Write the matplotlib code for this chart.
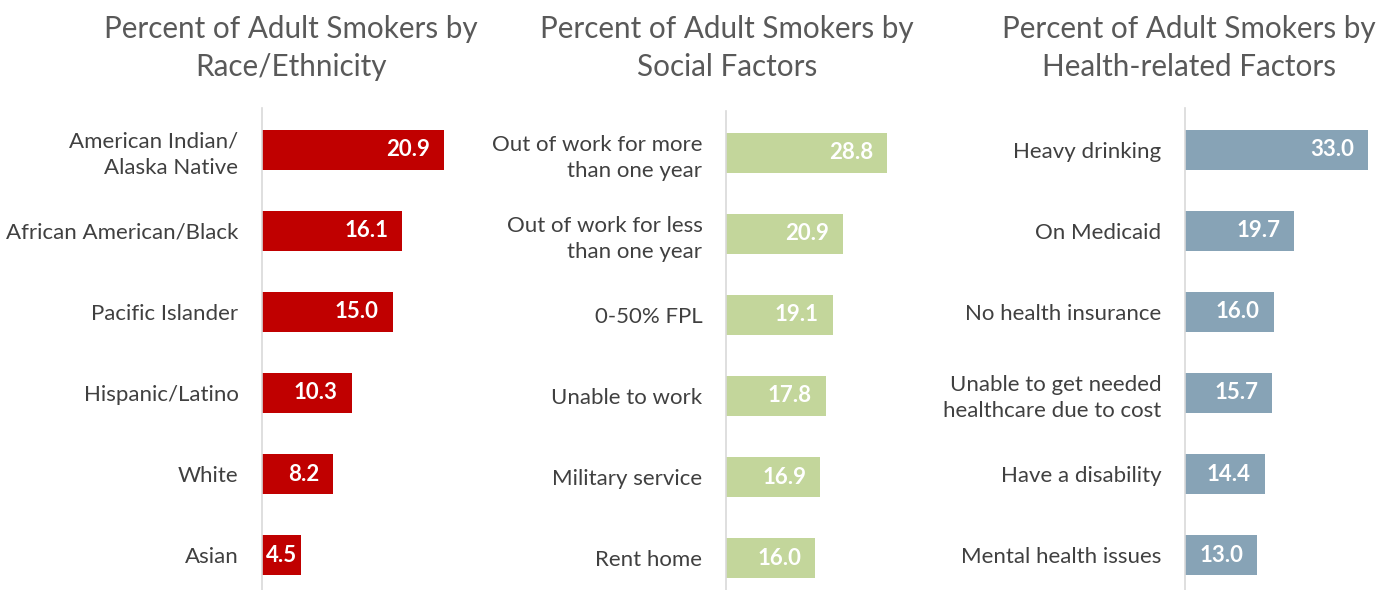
import matplotlib.pyplot as plt

plt.rcParams['font.family'] = ['Lato', 'DejaVu Sans']

# Race / ethnicity
race_labels = ["American Indian/\nAlaska Native", "African American/Black", "Pacific Islander",
               "Hispanic/Latino", "White", "Asian"]
race_values = [20.9, 16.1, 15.0, 10.3, 8.2, 4.5]

# Social factors
social_labels = ["Out of work for more\nthan one year", "Out of work for less\nthan one year", "0-50% FPL",
                 "Unable to work", "Military service", "Rent home"]
social_values = [28.8, 20.9, 19.1, 17.8, 16.9, 16.0]

# Health-related factors
health_labels = ["Heavy drinking", "On Medicaid", "No health insurance",
                 "Unable to get needed\nhealthcare due to cost", "Have a disability", "Mental health issues"]
health_values = [33.0, 19.7, 16.0, 15.7, 14.4, 13.0]

titles = ["Percent of Adult Smokers by\nRace/Ethnicity",
          "Percent of Adult Smokers by\nSocial Factors",
          "Percent of Adult Smokers by\nHealth-related Factors"]

W, H = 1393, 590
fig = plt.figure(figsize=(W / 100, H / 100), dpi=100)

panels = [
    # left px, xmax, px per unit, title center, y shift px, labels, values, colour
    (262, 25, 8.71, 291, 0, race_labels, race_values, "#C00000"),
    (726, 35, 5.59, 727, 3, social_labels, social_values, "#C3D69B"),
    (1185, 35, 5.55, 1189, 0, health_labels, health_values, "#87A3B6"),
]

top_px, bot_px = 108, 590
for i, (left, xmax, ppu, tcx, dy, labels, values, color) in enumerate(panels):
    width_px = xmax * ppu
    ax = fig.add_axes([left / W, 1 - bot_px / H, width_px / W, (bot_px - top_px) / H])
    y = list(range(len(values)))
    ax.barh(y, values, height=0.49, color=color)
    ax.set_xlim(0, xmax)
    shift = dy / 81.5
    ax.set_ylim(5.43 - shift, -0.515 - shift)
    for side in ["top", "right", "bottom"]:
        ax.spines[side].set_visible(False)
    ax.spines["left"].set_color("#D9D9D9")
    ax.spines["left"].set_linewidth(1.2)
    ax.spines["left"].set_bounds(5.43, -0.515)
    ax.set_xticks([])
    ax.set_yticks(y)
    ax.set_yticklabels(labels, fontsize=16, color="#404040", linespacing=1.4)
    ax.tick_params(axis="y", length=0, pad=17)
    for yi, v in zip(y, values):
        if v * ppu > 60:
            ax.text(v - 14 / ppu, yi, f"{v:.1f}", ha="right", va="center",
                    color="white", fontsize=16, fontweight="bold")
        else:
            ax.text(v / 2, yi, f"{v:.1f}", ha="center", va="center",
                    color="white", fontsize=16, fontweight="bold")
    fig.text(tcx / W, 1 - 15 / H, titles[i],
             ha="center", va="top", fontsize=21.3, color="#595959", linespacing=1.45)

fig.savefig("out.png", dpi=100)
